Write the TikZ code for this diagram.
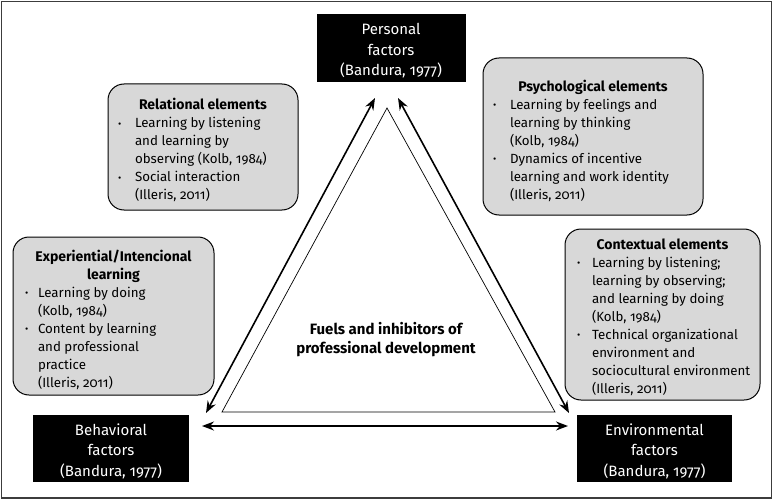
\documentclass[tikz,border=0pt]{standalone}
\usepackage{fontspec}
\setmainfont{Fira Sans}[Numbers=OldStyle]
\usetikzlibrary{arrows.meta}
\definecolor{boxgray}{RGB}{216,216,216}
\definecolor{framegray}{RGB}{60,60,60}
\tikzset{
  elem/.style={draw=black, line width=1pt, fill=boxgray, rounded corners=16pt, inner sep=0pt, align=left,
    font=\fontsize{13.3}{18}\selectfont},
  factor/.style={fill=black, text=white, inner sep=0pt, align=center,
    font=\fontsize{15}{20.5}\selectfont},
  link/.style={line width=1.6pt, {Stealth[length=12pt,width=9pt]}-{Stealth[length=12pt,width=9pt]}},
  tri/.style={draw=black, line width=0.7pt, fill=white},
  lbl/.style={align=center, font=\bfseries\fontsize{15}{19}\selectfont}
}
\newcommand{\bulcol}{\raisebox{0.5pt}{\scalebox{0.75}{\textbullet}}}
\newcommand{\ttl}[2]{\multicolumn{2}{@{}c@{}}{\rule{0pt}{#1}\bfseries\fontsize{14}{18}\selectfont #2}}
\begin{document}
\begin{tikzpicture}[x=1pt,y=-1pt]
\useasboundingbox (0,0) rectangle (773,500);
\draw[framegray, line width=1.3pt] (1.5,1.5) rectangle (771.5,498);

% triangle
\coordinate (ta) at (387,108);
\coordinate (tl) at (222,412);
\coordinate (tr) at (555,412);
\draw[tri] (ta) -- (tl) -- (tr) -- cycle;
\node[lbl] (fuel) at (386,340) {Fuels and inhibitors of\\professional development};

% factor boxes
\node[factor, minimum width=149pt, minimum height=68pt] (pers) at (391,48) {\rule{0pt}{17pt}Personal\\factors\\(Bandura, 1977)};
\node[factor, minimum width=156pt, minimum height=67pt] (beh) at (111,448.5) {\rule{0pt}{17pt}Behavioral\\factors\\(Bandura, 1977)};
\node[factor, minimum width=155pt, minimum height=67pt] (env) at (654.5,448.5) {\rule{0pt}{17pt}Environmental\\factors\\(Bandura, 1977)};

% arrow ends
\coordinate (pl) at (375,98);
\coordinate (pr) at (398,98);
\coordinate (bl) at (206,413);
\coordinate (er) at (569,413);
\coordinate (bb) at (202,426);
\coordinate (eb) at (568,426);
\draw[link] (bl) -- (pl);
\draw[link] (pr) -- (er);
\draw[link] (bb) -- (eb);

% element boxes
\node[elem, minimum width=190pt, minimum height=126pt] (rel) at (203,147) {%
\begin{tabular}{@{\hspace{10pt}}p{17pt}@{}p{163pt}@{}}
\ttl{20.6pt}{Relational elements}\\
\bulcol & Learning by listening\\
 & and learning by\\
 & observing (Kolb, 1984)\\
\bulcol & Social interaction\\
 & (Illeris, 2011)
\end{tabular}};

\node[elem, minimum width=220pt, minimum height=157pt] (psy) at (593,136.5) {%
\begin{tabular}{@{\hspace{10pt}}p{17pt}@{}p{193pt}@{}}
\ttl{22.6pt}{Psychological elements}\\
\bulcol & Learning by feelings and\\
 & learning by thinking\\
 & (Kolb, 1984)\\
\bulcol & Dynamics of incentive\\
 & learning and work identity\\
 & (Illeris, 2011)
\end{tabular}};

\node[elem, minimum width=201pt, minimum height=158pt] (exp) at (113.5,316) {%
\begin{tabular}{@{\hspace{12pt}}p{13pt}@{}p{176pt}@{}}
\ttl{21.6pt}{Experiential/Intencional}\\
\ttl{0pt}{learning}\\
\bulcol & Learning by doing\\
 & (Kolb, 1984)\\
\bulcol & Content by learning\\
 & and professional\\
 & practice\\
 & (Illeris, 2011)
\end{tabular}};

\node[elem, minimum width=195pt, minimum height=171pt] (ctx) at (662.5,314.5) {%
\begin{tabular}{@{\hspace{12pt}}p{15pt}@{}p{168pt}@{}}
\ttl{18.6pt}{Contextual elements}\\
\bulcol & Learning by listening;\\
 & learning by observing;\\
 & and learning by doing\\
 & (Kolb, 1984)\\
\bulcol & Technical organizational\\
 & environment and\\
 & sociocultural environment\\
 & (Illeris, 2011)
\end{tabular}};
\end{tikzpicture}
\end{document}
